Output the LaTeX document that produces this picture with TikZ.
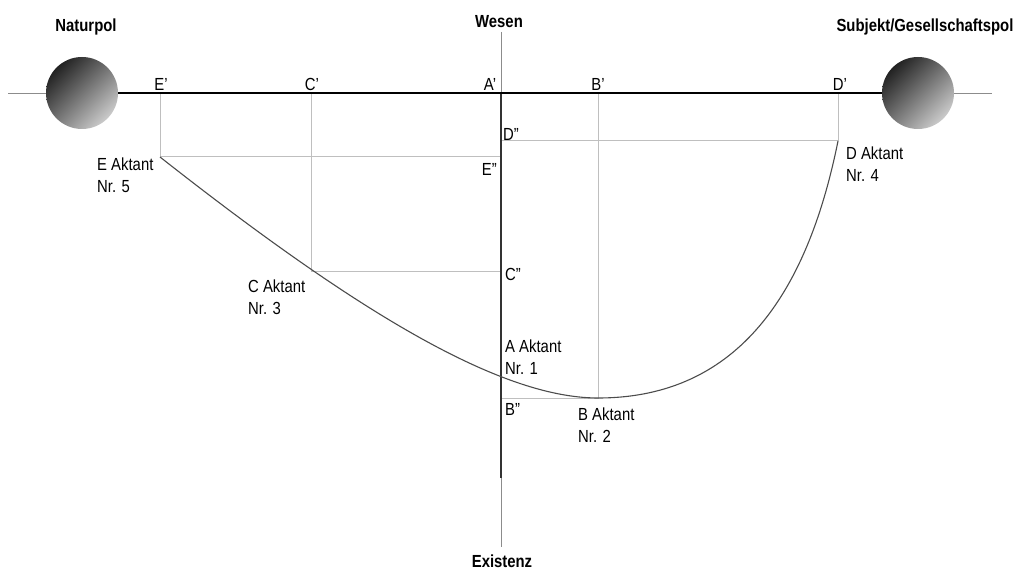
\documentclass[tikz,border=0pt]{standalone}
\usepackage{fontspec}
\setmainfont{Liberation Sans}[FakeStretch=0.85]
\usetikzlibrary{shadings}
\begin{document}
\begin{tikzpicture}[x=1pt,y=-1pt,
  lbl/.style={inner sep=0pt, font=\fontsize{17.5}{22}\selectfont, align=left},
  pol/.style={inner sep=0pt, font=\fontsize{17.5}{20}\selectfont\bfseries},
  thinaxis/.style={draw=black!45, line width=1pt},
  proj/.style={draw=black!25, line width=1pt},
  ball/.style={circle, minimum size=72pt, inner sep=0pt, upper left=black, upper right=black!55, lower left=black!55, lower right=black!6},
  curve/.style={draw=black!70, line width=1.1pt}
]
\useasboundingbox (0,0) rectangle (1018,572);
% axis ends
\coordinate (hl) at (8,94);
\coordinate (hr) at (992,94);
\coordinate (vt) at (501,32);
\coordinate (vb) at (501,547);
\coordinate (O) at (501,94);
\coordinate (vthick) at (501,478);
% projection points
\coordinate (Ep) at (160,94);
\coordinate (Cp) at (311,94);
\coordinate (Bp) at (598,94);
\coordinate (Dp) at (838,94);
\coordinate (E) at (160,157);
\coordinate (C) at (311,272);
\coordinate (A) at (501,378);
\coordinate (B) at (598,398);
\coordinate (D) at (838,141);
\coordinate (Epp) at (501,157);
\coordinate (Cpp) at (501,272);
\coordinate (Bpp) at (501,398);
\coordinate (Dpp) at (501,141);
% control points of the curve
\coordinate (c1) at (352,308);
\coordinate (c2) at (498,398);
\coordinate (c3) at (740,398);
\coordinate (c4) at (808,290);
% thin axes
\draw[thinaxis] (hl) -- (hr);
\draw[thinaxis] (vt) -- (vb);
% projections
\draw[proj] (Ep) -- (E) -- (Epp);
\draw[proj] (Cp) -- (C) -- (Cpp);
\draw[proj] (Bp) -- (B) -- (Bpp);
\draw[proj] (Dp) -- (D) -- (Dpp);
% poles
\node[ball] (L) at (82,93) {};
\node[ball] (R) at (918,93) {};
% thick axes
\draw[black, line width=2.2pt] (L.east) -- (R.west);
\draw[black!80, line width=2.4pt] (O) -- (vthick);
% curve
\draw[curve] (E) .. controls (c1) and (c2) .. (B) .. controls (c3) and (c4) .. (D);
% pole labels
\node[pol, anchor=north] (naturpol) at (86,19) {Naturpol};
\node[pol, anchor=north] (subjekt) at (925,19) {Subjekt/Gesellschaftspol};
\node[pol, anchor=north] (wesen) at (499,15) {Wesen};
\node[pol, anchor=north] (existenz) at (502,555) {Existenz};
% primed labels
\node[lbl, anchor=north] (lEp) at (161,78) {E’};
\node[lbl, anchor=north] (lCp) at (312,78) {C’};
\node[lbl, anchor=north] (lAp) at (490,78) {A’};
\node[lbl, anchor=north] (lBp) at (598,78) {B’};
\node[lbl, anchor=north] (lDp) at (840,78) {D’};
\node[lbl, anchor=north west] (lDpp) at (503,128) {D”};
\node[lbl, anchor=north east] (lEpp) at (497,163) {E”};
\node[lbl, anchor=north west] (lCpp) at (505,268) {C”};
\node[lbl, anchor=north west] (lBpp) at (505,403) {B”};
% actant labels
\node[lbl, anchor=north west] (lA) at (505,340) {A Aktant\\Nr. 1};
\node[lbl, anchor=north west] (lB) at (578,408) {B Aktant\\Nr. 2};
\node[lbl, anchor=north west] (lC) at (248,280) {C Aktant\\Nr. 3};
\node[lbl, anchor=north west] (lD) at (846,147) {D Aktant\\Nr. 4};
\node[lbl, anchor=north west] (lE) at (97,158) {E Aktant\\Nr. 5};
\end{tikzpicture}
\end{document}
